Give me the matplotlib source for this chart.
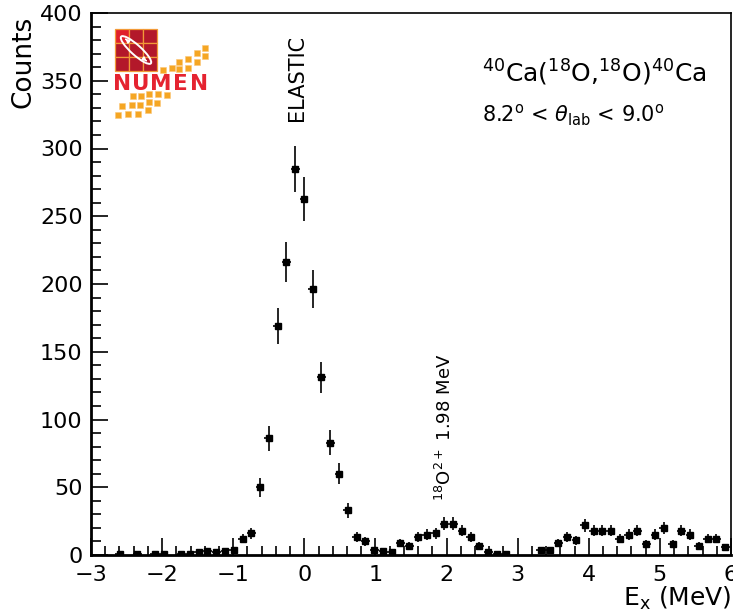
import numpy as np
import matplotlib
matplotlib.use("Agg")
import matplotlib.pyplot as plt
from matplotlib.patches import Rectangle, Ellipse
from matplotlib.ticker import MultipleLocator

# Excitation-energy spectrum, 40Ca(18O,18O)40Ca, 8.2 < theta_lab < 9.0 deg
bin_width = 0.1234
first_center = -2.967
counts = [
    0, 0, 0, 1, 0, 1, 0, 1, 1, 0,
    1, 1, 2, 3, 2, 3, 4, 12, 16, 50,
    86, 169, 216, 285, 263, 196, 131, 83, 60, 33,
    13, 10, 4, 3, 2, 9, 7, 13, 15, 16,
    23, 23, 18, 13, 7, 2, 1, 1, 0, 0,
    0, 4, 4, 9, 13, 11, 22, 18, 18, 18,
    12, 15, 18, 8, 15, 20, 8, 18, 15, 7,
    12, 12, 6,
]
e_x = first_center + bin_width * np.arange(len(counts))

x_ticks = [-3, -2, -1, 0, 1, 2, 3, 4, 5, 6]
y_ticks = [0, 50, 100, 150, 200, 250, 300, 350, 400]

W, H = 733, 616
fig = plt.figure(figsize=(W / 100, H / 100), dpi=100)


def fx(px):
    return px / W


def fy(py):
    return 1 - py / H


ax = fig.add_axes([fx(91), fy(555), (731 - 91) / W, (555 - 13) / H])

c = np.array(counts, dtype=float)
keep = c > 0
ax.errorbar(e_x[keep], c[keep], yerr=np.sqrt(c[keep]), xerr=bin_width / 2,
            fmt="s", ms=4.0, color="black", ecolor="black",
            elinewidth=1.2, capsize=0)

ax.set_xlim(-3, 6)
ax.set_ylim(0, 400)
ax.set_xticks(x_ticks)
ax.set_yticks(y_ticks)
ax.set_xticklabels([str(t).replace("-", "\u2212") for t in x_ticks])
ax.xaxis.set_minor_locator(MultipleLocator(0.2))
ax.yaxis.set_minor_locator(MultipleLocator(10))
ax.tick_params(which="both", direction="in", top=False, right=False,
               labelsize=16, width=1.2, color="black")
ax.tick_params(axis="x", which="major", length=12, pad=7)
ax.tick_params(axis="x", which="minor", length=6.5)
ax.tick_params(axis="y", which="major", length=12, pad=6)
ax.tick_params(axis="y", which="minor", length=7)
for side in ["left", "bottom"]:
    ax.spines[side].set_linewidth(2.0)
for side in ["top", "right"]:
    ax.spines[side].set_linewidth(1.2)

fig.text(fx(24), fy(16), "Counts", rotation=90, ha="center", va="top",
         fontsize=19)
fig.text(fx(731), fy(598), r"E$_{\mathrm{x}}$ (MeV)", ha="right",
         va="center", fontsize=18)

fig.text(fx(482), fy(82), r"$^{40}$Ca($^{18}$O,$^{18}$O)$^{40}$Ca",
         ha="left", va="baseline", fontsize=18)
fig.text(fx(482), fy(122), r"8.2$^{\mathrm{o}}$ < $\theta_{\mathrm{lab}}$ < 9.0$^{\mathrm{o}}$",
         ha="left", va="baseline", fontsize=15)

ax.text(-0.1, 384, "ELASTIC", rotation=90, ha="center", va="top",
        fontsize=15)
ax.text(1.98, 40, r"$^{18}$O$^{2+}$ 1.98 MeV", rotation=90, ha="center",
        va="bottom", fontsize=13)

# NUMEN logo, drawn in pixel units
lg = fig.add_axes([fx(112), fy(120), 98 / W, 95 / H])
lg.set_xlim(112, 210)
lg.set_ylim(120, 25)
lg.axis("off")

cell = 14
for i in range(3):
    for j in range(3):
        shade = "#e0202c" if (i + j) == 0 else "#b3182a"
        lg.add_patch(Rectangle((115 + i * cell, 29 + j * cell), cell, cell,
                               facecolor=shade, edgecolor="#f29a38", lw=0.9))
lg.add_patch(Ellipse((136, 50), 40, 10, angle=42, fill=False,
                     edgecolor="white", lw=1.4))
lg.annotate("", xy=(123, 37), xytext=(128, 41),
            arrowprops=dict(arrowstyle="-|>", color="white", lw=1.0,
                            mutation_scale=6))
lg.annotate("", xy=(149, 63), xytext=(144, 59),
            arrowprops=dict(arrowstyle="-|>", color="white", lw=1.0,
                            mutation_scale=6))

for letter, px in zip("NUMEN", [122, 141, 161, 180, 199]):
    lg.text(px, 90, letter, color="#e52330", fontsize=15.5, fontweight="bold",
            ha="center", va="baseline")

squares = [(163, 70), (172, 68), (179, 69), (179, 62), (188, 68), (188, 59),
           (197, 62), (197, 53), (205, 56), (205, 48),
           (118, 115), (128, 114), (138, 114), (148, 110), (122, 106),
           (132, 105), (140, 105), (149, 102), (157, 103), (133, 96),
           (141, 96), (149, 94), (158, 94), (167, 95)]
for sx, sy in squares:
    lg.add_patch(Rectangle((sx - 3, sy - 3), 6, 6, facecolor="#f5a623",
                           edgecolor="#fbc77a", lw=0.4))

fig.savefig("out.png", dpi=100)
